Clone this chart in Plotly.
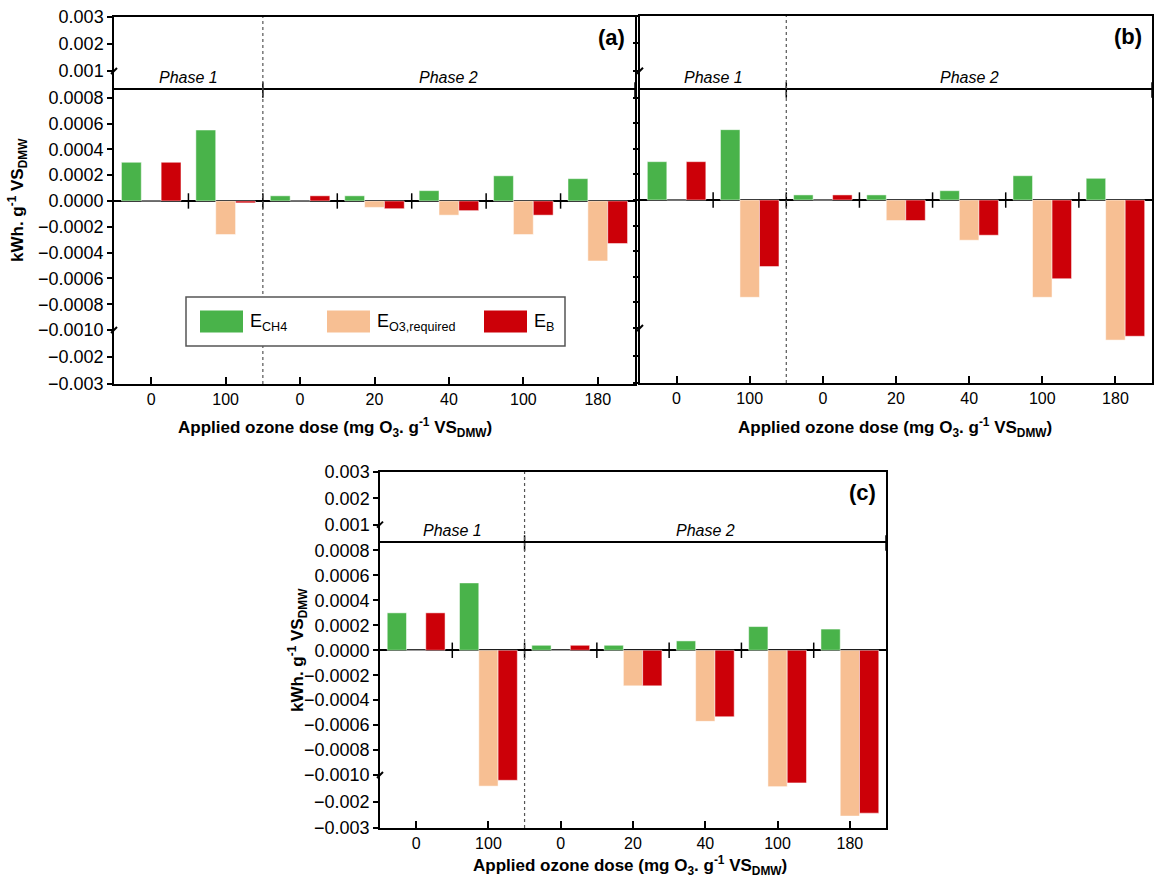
import plotly.graph_objects as go

W, H = 1160, 881

# ---------------- data ----------------
categories = ["0", "100", "0", "20", "40", "100", "180"]
phase1_count = 2
series_names = ["E<sub>CH4</sub>", "E<sub>O3,required</sub>", "E<sub>B</sub>"]
series_colors = ["#49B34A", "#F7BF93", "#CC0008"]

# panel (a)
a_ech4 = [0.00030, 0.00055, 0.00004, 0.00004, 0.00008, 0.000195, 0.000173]
a_eo3 = [0.0, -0.00026, 0.0, -0.00005, -0.00011, -0.00026, -0.000465]
a_eb = [0.00030, -0.000015, 0.00004, -0.00006, -0.000075, -0.00011, -0.00033]
# panel (b)
b_ech4 = [0.00030, 0.00055, 0.00004, 0.00004, 0.000073, 0.00019, 0.00017]
b_eo3 = [0.0, -0.00076, 0.0, -0.00016, -0.000314, -0.00076, -0.00144]
b_eb = [0.00030, -0.00052, 0.00004, -0.00016, -0.000275, -0.000615, -0.00130]
# panel (c)
c_ech4 = [0.00030, 0.00054, 0.00004, 0.00004, 0.000075, 0.00019, 0.00017]
c_eo3 = [0.0, -0.00142, 0.0, -0.000285, -0.00057, -0.00144, -0.00255]
c_eb = [0.00030, -0.00120, 0.00004, -0.000285, -0.000533, -0.00130, -0.00244]

panel_data = [(a_ech4, a_eo3, a_eb), (b_ech4, b_eo3, b_eb), (c_ech4, c_eo3, c_eb)]
panel_labels = ["(a)", "(b)", "(c)"]

top_ticks = [0.001, 0.002, 0.003]
top_text = ["0.001", "0.002", "0.003"]
mid_ticks = [0.0008, 0.0006, 0.0004, 0.0002, 0.0, -0.0002, -0.0004, -0.0006, -0.0008, -0.0010]
mid_text = ["0.0008", "0.0006", "0.0004", "0.0002", "0.0000", "\u22120.0002", "\u22120.0004",
            "\u22120.0006", "\u22120.0008", "\u22120.0010"]
bot_ticks = [-0.002, -0.003]
bot_text = ["\u22120.002", "\u22120.003"]

# ---------------- layout geometry (pixels) ----------------
panels = [
    dict(x=(114, 635), top=(17, 90), mid=(90, 330), bot=(330, 384), labels=True,
         xtitle=(335, 427), ytitle=(17, 200)),
    dict(x=(640, 1152), top=(16, 90), mid=(90, 328), bot=(328, 383), labels=False,
         xtitle=(895, 427), ytitle=None),
    dict(x=(380, 886), top=(472, 543), mid=(543, 775), bot=(775, 828), labels=True,
         xtitle=(630, 865), ytitle=(297, 650)),
]
top_range = [0.0003, 0.003]
mid_range = [-0.001, 0.00086]
bot_range = [-0.003, -0.001]

# legend box geometry (pixels) inside panel (a)
legend_box = (186, 297, 565, 346)
legend_swatch_x = [200, 327, 484]
legend_swatch_w, legend_swatch_h = 43, 22

FONT = "Liberation Sans, Arial, sans-serif"


def px(x):
    return x / W


def py(y):
    return 1 - y / H


fig = go.Figure()
layout = dict(
    width=W, height=H, margin=dict(l=0, r=0, t=0, b=0, autoexpand=False),
    paper_bgcolor="white", plot_bgcolor="rgba(0,0,0,0)",
    barmode="group", bargap=0.2, bargroupgap=0.0,
    font=dict(family=FONT, color="black"),
    showlegend=False,
)
shapes = []
annotations = []
xpos = list(range(len(categories)))
xr = [-0.5, len(categories) - 0.5]
boundaries = [i + 0.5 for i in range(len(categories) - 1)]
divider = phase1_count - 0.5

for pi, p in enumerate(panels):
    xdom = [px(p["x"][0]), px(p["x"][1])]
    segs = [("bot", bot_range), ("mid", mid_range), ("top", top_range)]
    for si, (sname, rng) in enumerate(segs):
        k = pi * 3 + si + 1
        xa = "xaxis" if k == 1 else f"xaxis{k}"
        ya = "yaxis" if k == 1 else f"yaxis{k}"
        xref = "x" if k == 1 else f"x{k}"
        yref = "y" if k == 1 else f"y{k}"
        kb = pi * 3 + 1
        xb = "x" if kb == 1 else f"x{kb}"
        y0, y1 = p[sname]
        ydom = [py(y1), py(y0)]
        xcfg = dict(domain=xdom, range=xr, anchor=yref, showgrid=False, zeroline=False,
                    showline=True, linecolor="black", linewidth=1.5, automargin=False)
        if sname == "bot":
            xcfg.update(tickmode="array", tickvals=xpos, ticktext=categories,
                        ticks="inside", ticklen=7, tickwidth=1.5, tickcolor="black",
                        tickfont=dict(size=16, family=FONT))
        else:
            xcfg.update(matches=xb, side="top", showticklabels=False, ticks="")
        layout[xa] = xcfg
        if sname == "top":
            tv, tt = top_ticks, top_text
        elif sname == "mid":
            tv, tt = mid_ticks, mid_text
        else:
            tv, tt = bot_ticks, bot_text
        ycfg = dict(domain=ydom, range=rng, anchor=xref, showgrid=False, automargin=False,
                    showline=True, linecolor="black", linewidth=1.5, mirror=True,
                    tickmode="array", tickvals=tv, ticktext=tt, ticks="outside",
                    ticklen=5, tickwidth=1.5, tickcolor="black",
                    showticklabels=p["labels"], tickfont=dict(size=18, family=FONT),
                    zeroline=(sname == "mid"), zerolinecolor="black", zerolinewidth=1.5)
        layout[ya] = ycfg

        # bars in mid and bottom segments
        if sname in ("mid", "bot"):
            for name, color, vals in zip(series_names, series_colors, panel_data[pi]):
                fig.add_trace(go.Bar(
                    x=xpos, y=vals, name=name, xaxis=xref, yaxis=yref,
                    marker=dict(color=color, line=dict(color="rgba(255,255,255,0.5)", width=1)),
                    showlegend=False,
                ))
        else:
            # empty trace so the top segment subplot is created
            fig.add_trace(go.Scatter(x=[None], y=[None], xaxis=xref, yaxis=yref,
                                     mode="markers", showlegend=False, hoverinfo="skip"))
        if sname == "mid":
            # boundary ticks crossing the zero line
            fig.add_trace(go.Scatter(
                x=boundaries, y=[0] * len(boundaries), xaxis=xref, yaxis=yref,
                mode="markers", showlegend=False, hoverinfo="skip", cliponaxis=False,
                marker=dict(symbol="line-ns", size=11, line=dict(color="black", width=1.5)),
            ))
            # ticks crossing the break line at the top of the mid segment
            fig.add_trace(go.Scatter(
                x=[divider, xr[1]], y=[rng[1]] * 2, xaxis=xref, yaxis=yref,
                mode="markers", showlegend=False, hoverinfo="skip", cliponaxis=False,
                marker=dict(symbol="line-ns", size=11, line=dict(color="black", width=1.5)),
            ))
            # phase labels
            for txt, xc in (("<i>Phase 1</i>", (xr[0] + divider) / 2),
                            ("<i>Phase 2</i>", (divider + xr[1]) / 2)):
                annotations.append(dict(x=xc, y=py(p["mid"][0] - 13), xref=xref, yref="paper",
                                        xanchor="center", yanchor="middle", text=txt,
                                        showarrow=False, font=dict(size=16, family=FONT)))
            # dotted divider over full panel height
            shapes.append(dict(type="line", xref=xref, yref="paper", x0=divider, x1=divider,
                               y0=py(p["bot"][1]), y1=py(p["top"][0]),
                               line=dict(color="#555555", width=1.2, dash="dot")))

    # break marks on left spine
    xl = p["x"][0]
    ybreak_top = p["top"][0] + (p["top"][1] - p["top"][0]) * (top_range[1] - 0.001) / (top_range[1] - top_range[0])
    for yb in (ybreak_top, p["bot"][0]):
        shapes.append(dict(type="line", xref="paper", yref="paper",
                           x0=px(xl - 3), x1=px(xl + 3), y0=py(yb + 3), y1=py(yb - 3),
                           line=dict(color="black", width=2)))
    # panel label
    annotations.append(dict(x=px(p["x"][1] - 8), y=py(p["top"][0] + 20), xref="paper", yref="paper",
                            xanchor="right", yanchor="middle", text=f"<b>{panel_labels[pi]}</b>",
                            showarrow=False, font=dict(size=22, family=FONT)))
    # axis titles
    annotations.append(dict(x=px(p["xtitle"][0]), y=py(p["xtitle"][1]), xref="paper", yref="paper",
                            xanchor="center", yanchor="middle",
                            text="<b>Applied ozone dose (mg O<sub>3</sub>. g<sup>-1</sup> VS<sub>DMW</sub>)</b>",
                            showarrow=False, font=dict(size=17, family=FONT)))
    if p["ytitle"]:
        annotations.append(dict(x=px(p["ytitle"][0]), y=py(p["ytitle"][1]), xref="paper", yref="paper",
                                xanchor="center", yanchor="middle",
                                text="<b>kWh. g<sup>-1</sup> VS<sub>DMW</sub></b>", textangle=-90,
                                showarrow=False, font=dict(size=17, family=FONT)))

# custom legend (box, swatches, labels) in panel (a)
lx0, ly0, lx1, ly1 = legend_box
shapes.append(dict(type="rect", xref="paper", yref="paper", x0=px(lx0), x1=px(lx1),
                   y0=py(ly1), y1=py(ly0), line=dict(color="#555555", width=1.5),
                   fillcolor="white", layer="above"))
lyc = (ly0 + ly1) / 2
for name, color, sx in zip(series_names, series_colors, legend_swatch_x):
    shapes.append(dict(type="rect", xref="paper", yref="paper", x0=px(sx), x1=px(sx + legend_swatch_w),
                       y0=py(lyc + legend_swatch_h / 2), y1=py(lyc - legend_swatch_h / 2),
                       line=dict(width=0), fillcolor=color, layer="above"))
    annotations.append(dict(x=px(sx + legend_swatch_w + 5), y=py(lyc + 1), xref="paper", yref="paper",
                            xanchor="left", yanchor="middle", text=name, showarrow=False,
                            font=dict(size=18, family=FONT)))

layout["shapes"] = shapes
layout["annotations"] = annotations
fig.update_layout(**layout)
fig.write_html("out.html")
